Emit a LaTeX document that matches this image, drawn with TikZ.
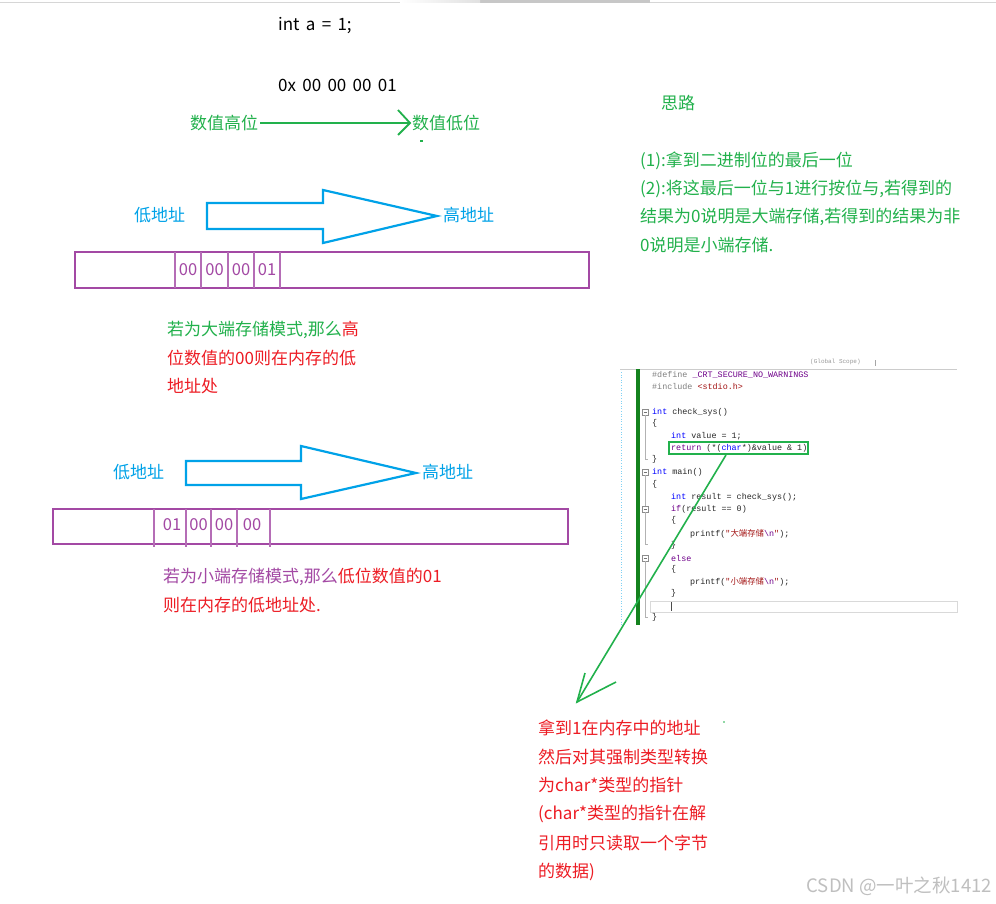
\documentclass[tikz,border=0pt]{standalone}
\usepackage{fontspec}
\setmainfont{Noto Sans CJK SC}
\newfontfamily\cjk{Noto Sans CJK SC}
\newfontfamily\codefont{Liberation Mono}
\usetikzlibrary{arrows.meta}
\definecolor{pgreen}{RGB}{34,177,76}
\definecolor{pblue}{RGB}{0,162,232}
\definecolor{ppurple}{RGB}{163,73,164}
\definecolor{pred}{RGB}{237,28,36}
\definecolor{kw}{RGB}{0,0,255}
\definecolor{mac}{RGB}{111,0,138}
\definecolor{strc}{RGB}{163,21,21}
\definecolor{ppc}{RGB}{128,128,128}
\definecolor{idt}{RGB}{40,40,40}
\definecolor{vsgreen}{RGB}{20,130,30}
\newcommand{\wsp}{\hspace{0.37em}}
\tikzset{
  txt/.style={anchor=west,inner sep=0pt,font=\fontsize{17}{17}\selectfont},
  cell/.style={inner sep=0pt,text=ppurple,font=\fontsize{16.5}{16.5}\selectfont},
  code/.style={anchor=west,inner sep=0pt,text=idt,font=\codefont\fontsize{8.4}{8.4}\selectfont},
  blockarrow/.style={draw=pblue,line width=2.2pt,line join=miter},
  membox/.style={draw=ppurple,line width=2.5pt},
  memdiv/.style={draw=ppurple!80,line width=1.1pt},
  fold/.style={draw=black!45,line width=0.5pt,fill=white},
}
\begin{document}
\begin{tikzpicture}[x=1pt,y=-1pt]
\useasboundingbox (0,0) rectangle (996,904);
\fill[white] (0,0) rectangle (996,904);
% top bar
\fill[black!16] (0,2.5) rectangle (996,3.5);
\fill[black!22] (480,0) rectangle (650,3.5);
\shade[left color=white,right color=black!12] (400,0) rectangle (480,3);

% top texts
\node[txt] (inta) at (278,26) {int\wsp a\wsp =\wsp 1;};
\node[txt] (hex) at (278,85) {0x\wsp 00\wsp 00\wsp 00\wsp 01};
\node[txt,text=pgreen] (hi) at (190,123) {数值高位};
\node[txt,text=pgreen] (lo) at (412,123) {数值低位};
\coordinate (hiE) at (260,123);
\coordinate (loW) at (410,123);
\draw[pgreen,line width=1.8pt] (hiE) -- (loW);
\draw[pgreen,line width=1.8pt,line join=miter] (398,110) -- (loW) -- (398,135);
\fill[pgreen] (420,140.5) rectangle (423,142);

% thoughts
\node[txt,text=pgreen] (sl) at (661,103) {思路};
\node[txt,text=pgreen] (t1) at (640,161) {(1):拿到二进制位的最后一位};
\node[txt,text=pgreen] (t2) at (640,189) {(2):将这最后一位与1进行按位与,若得到的};
\node[txt,text=pgreen] (t3) at (640,217) {结果为0说明是大端存储,若得到的结果为非};
\node[txt,text=pgreen] (t4) at (640,245) {0说明是小端存储.};

% first address arrow
\node[txt,text=pblue] (la1) at (134,215) {低地址};
\node[txt,text=pblue] (ha1) at (443,215) {高地址};
\draw[blockarrow] (207,203) -- (323,203) -- (323,190) -- (437,216) -- (323,243) -- (323,229) -- (207,229) -- cycle;

% first memory box
\draw[membox] (75,252) rectangle (589,288);
\foreach \x in {175,201,228,254,280}{\draw[memdiv] (\x,252) -- (\x,288);}
\node[cell] (b1a) at (188,270) {00};
\node[cell] (b1b) at (214.5,270) {00};
\node[cell] (b1c) at (241,270) {00};
\node[cell] (b1d) at (267,270) {01};

% big endian text
\node[txt,text=pgreen] (be1) at (167,330) {若为大端存储模式,那么\textcolor{pred}{高}};
\node[txt,text=pred] (be2) at (167,358) {位数值的00则在内存的低};
\node[txt,text=pred] (be3) at (167,386) {地址处};

% second address arrow
\node[txt,text=pblue] (la2) at (113,472) {低地址};
\node[txt,text=pblue] (ha2) at (422,472) {高地址};
\draw[blockarrow] (186,461) -- (301,461) -- (301,446) -- (416,473) -- (301,499) -- (301,485) -- (186,485) -- cycle;

% second memory box
\draw[membox] (53,509) rectangle (568,544);
\foreach \x in {154,186,211,237,270}{\draw[memdiv] (\x,509) -- (\x,547);}
\node[cell] (b2a) at (172,525) {01};
\node[cell] (b2b) at (198.5,525) {00};
\node[cell] (b2c) at (224,525) {00};
\node[cell] (b2d) at (252,525) {00};

% little endian text
\node[txt,text=ppurple] (le1) at (163,577) {若为小端存储模式,那么\textcolor{pred}{低位数值的01}};
\node[txt,text=pred] (le2) at (163,605) {则在内存的低地址处.};

% code screenshot
\draw[black!20,line width=0.8pt] (620,369) -- (957,369);
\draw[black!35,line width=0.5pt] (875,360) -- (875,366);
\node[anchor=west,inner sep=0pt,text=black!40,font=\codefont\fontsize{6}{6}\selectfont] (tab) at (810,362) {(Global Scope)};
\draw[pblue!50,dotted,line width=0.6pt] (621,372) -- (621,625);
\fill[vsgreen] (636,369) rectangle (640,625);
\draw[black!15,line width=0.5pt] (650,601) rectangle (957,612);
\draw[black!70,line width=0.8pt] (671,602) -- (671,611);
% fold markers
\foreach \y in {412,472,509,558}{
  \draw[fold] (642,\y-3) rectangle (648,\y+3);
  \draw[black!55,line width=0.5pt] (643.5,\y) -- (646.5,\y);
}
\draw[black!30,line width=0.5pt] (645,415) -- (645,459) -- (648,459);
\draw[black!30,line width=0.5pt] (645,475) -- (645,506);
\draw[black!30,line width=0.5pt] (645,512) -- (645,544) -- (648,544);
\draw[black!30,line width=0.5pt] (645,561) -- (645,617) -- (648,617);

\node[code] (c1) at (652,375) {\textcolor{ppc}{\#define} \textcolor{mac}{\_CRT\_SECURE\_NO\_WARNINGS}};
\node[code] (c2) at (652,387) {\textcolor{ppc}{\#include} \textcolor{strc}{<stdio.h>}};
\node[code] (c3) at (652,412) {\textcolor{kw}{int} check\_sys()};
\node[code] (c4) at (652,423) {\{};
\node[code] (c5) at (671,436) {\textcolor{kw}{int} value = 1;};
\node[code] (c6) at (671,448) {\textcolor{mac}{return} (*(\textcolor{kw}{char}*)\&value \& 1)};
\node[code] (c7) at (652,459) {\}};
\node[code] (c8) at (652,472) {\textcolor{kw}{int} main()};
\node[code] (c9) at (652,484) {\{};
\node[code] (c10) at (671,497) {\textcolor{kw}{int} result = check\_sys();};
\node[code] (c11) at (671,509) {\textcolor{mac}{if}(result == 0)};
\node[code] (c12) at (671,520) {\{};
\node[code] (c13) at (690,534) {printf(\textcolor{strc}{"{\cjk 大端存储}\textcolor{mac}{\textbackslash n}"});};
\node[code] (c14) at (671,545) {\}};
\node[code] (c15) at (671,558) {\textcolor{mac}{else}};
\node[code] (c16) at (671,569) {\{};
\node[code] (c17) at (690,582) {printf(\textcolor{strc}{"{\cjk 小端存储}\textcolor{mac}{\textbackslash n}"});};
\node[code] (c18) at (671,593) {\}};
\node[code] (c19) at (652,617) {\}};

% highlight box and pointer
\draw[pgreen,line width=1.2pt] (669,442) rectangle (808,454);
\coordinate (rb) at (726,455);
\coordinate (tip) at (577,702);
\draw[pgreen,line width=1.6pt] (rb) -- (tip);
\draw[pgreen,line width=1.6pt,line join=miter] (585,673) -- (tip) -- (616,682);
\fill[pgreen] (724,722) circle (0.8);

% explanation text
\node[txt,text=pred] (e1) at (538,728) {拿到1在内存中的地址};
\node[txt,text=pred] (e2) at (538,757) {然后对其强制类型转换};
\node[txt,text=pred] (e3) at (538,785) {为char*类型的指针};
\node[txt,text=pred] (e4) at (538,814) {(char*类型的指针在解};
\node[txt,text=pred] (e5) at (538,843) {引用时只读取一个字节};
\node[txt,text=pred] (e6) at (538,872) {的数据)};

% watermark
\node[anchor=east,inner sep=0pt,text=black!25,font=\fontsize{18.5}{18.5}\selectfont] (wm) at (992,886) {CSDN @一叶之秋1412};
\end{tikzpicture}
\end{document}
